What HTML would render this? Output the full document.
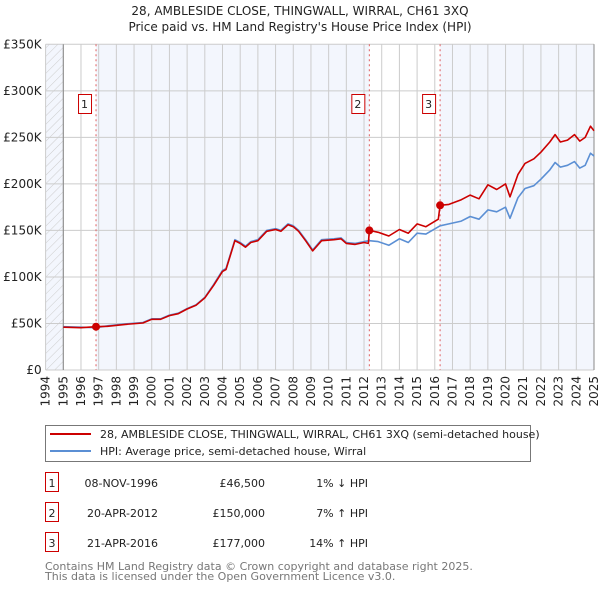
<!DOCTYPE html>
<html><head><meta charset="utf-8">
<style>
body{margin:0;background:#fff;font-family:"DejaVu Sans","Liberation Sans",sans-serif;}
svg text{font-family:"DejaVu Sans","Liberation Sans",sans-serif;}
</style></head>
<body>
<svg id="chart" width="600" height="590" xmlns="http://www.w3.org/2000/svg">
<defs>
<pattern id="hatch" width="6" height="6" patternUnits="userSpaceOnUse" patternTransform="rotate(45)">
<line x1="0" y1="0" x2="0" y2="6" stroke="#ccc" stroke-width="1"/>
</pattern>
</defs>
<text x="300" y="15" text-anchor="middle" font-size="12" fill="#222">28, AMBLESIDE CLOSE, THINGWALL, WIRRAL, CH61 3XQ</text>
<text x="300" y="31" text-anchor="middle" font-size="12" fill="#222">Price paid vs. HM Land Registry's House Price Index (HPI)</text>
<g id="plot"></g>
<g>
<rect x="45.5" y="425.5" width="485" height="36" fill="#fff" stroke="#777"/>
<line x1="50" y1="434" x2="91" y2="434" stroke="#cc0000" stroke-width="2"/>
<text x="100" y="438" font-size="11" fill="#222">28, AMBLESIDE CLOSE, THINGWALL, WIRRAL, CH61 3XQ (semi-detached house)</text>
<line x1="50" y1="451" x2="91" y2="451" stroke="#5b8fd4" stroke-width="2"/>
<text x="100" y="455" font-size="11" fill="#222">HPI: Average price, semi-detached house, Wirral</text>
</g>
<g id="table" font-size="11" fill="#222"></g>
<text x="45" y="570" font-size="11" fill="#777">Contains HM Land Registry data © Crown copyright and database right 2025.</text>
<text x="45" y="580" font-size="11" fill="#777">This data is licensed under the Open Government Licence v3.0.</text>
</svg>
<script>
const yTicks=[0,50000,100000,150000,200000,250000,300000,350000];
const yTickLabels=["£0","£50K","£100K","£150K","£200K","£250K","£300K","£350K"];
const years=[1994,1995,1996,1997,1998,1999,2000,2001,2002,2003,2004,2005,2006,2007,2008,2009,2010,2011,2012,2013,2014,2015,2016,2017,2018,2019,2020,2021,2022,2023,2024,2025];
const hpiDates=[1995.0,1996.0,1996.85,1997.5,1998.5,1999.5,2000.0,2000.5,2001.0,2001.5,2002.0,2002.5,2003.0,2003.5,2004.0,2004.2,2004.7,2005.0,2005.3,2005.6,2006.0,2006.5,2007.0,2007.3,2007.7,2008.0,2008.3,2008.7,2009.1,2009.6,2010.3,2010.7,2011.0,2011.5,2012.0,2012.3,2012.8,2013.4,2014.0,2014.5,2015.0,2015.5,2016.3,2016.8,2017.5,2018.0,2018.5,2019.0,2019.5,2020.0,2020.25,2020.7,2021.1,2021.6,2022.0,2022.5,2022.8,2023.1,2023.5,2023.9,2024.2,2024.5,2024.8,2025.0];
const hpiValues=[46500,46000,45500,47500,49500,51000,55000,55000,59000,61000,66000,70000,78000,92000,107000,109000,140000,137000,133000,138000,140000,150000,152000,150000,157000,155000,150000,140000,129000,140000,141000,142000,137000,136000,138000,139000,138000,134000,141000,137000,147000,146000,155000,157000,160000,165000,162000,172000,170000,175000,163000,185000,195000,198000,205000,215000,223000,218000,220000,224000,217000,220000,233000,230000];
const priceDates=[1995.0,1996.0,1996.85,1997.5,1998.5,1999.5,2000.0,2000.5,2001.0,2001.5,2002.0,2002.5,2003.0,2003.5,2004.0,2004.2,2004.7,2005.0,2005.3,2005.6,2006.0,2006.5,2007.0,2007.3,2007.7,2008.0,2008.3,2008.7,2009.1,2009.6,2010.3,2010.7,2011.0,2011.5,2012.0,2012.25,2012.3,2012.8,2013.4,2014.0,2014.5,2015.0,2015.5,2016.2,2016.3,2016.8,2017.5,2018.0,2018.5,2019.0,2019.5,2020.0,2020.25,2020.7,2021.1,2021.6,2022.0,2022.5,2022.8,2023.1,2023.5,2023.9,2024.2,2024.5,2024.8,2025.0];
const priceValues=[46000,45500,46500,47000,49000,50500,54500,54500,58500,60500,65500,69500,77500,91000,106000,108000,139000,136000,132000,137000,139000,149000,151000,149000,156000,154000,149000,139000,128000,139000,140000,141000,136000,135000,137000,136000,150000,148000,144000,151000,147000,157000,154000,162000,177000,178000,183000,188000,184000,199000,194000,200000,186000,210000,222000,227000,234000,245000,253000,245000,247000,253000,246000,250000,262000,257000];
const saleDates=[1996.85,2012.3,2016.3];
const salePrices=[46500,150000,177000];
const saleLabels=["1","2","3"];
const tableDates=["08-NOV-1996","20-APR-2012","21-APR-2016"];
const tablePrices=["£46,500","£150,000","£177,000"];
const tableHpi=["1% ↓ HPI","7% ↑ HPI","14% ↑ HPI"];

const X0=45.6,X1=594,Y0=370,Y1=44.3;
const xs=t=>X0+(t-1994)/(2025-1994)*(X1-X0);
const ys=v=>Y0-v/350000*(Y0-Y1);
const NS="http://www.w3.org/2000/svg";
const plot=document.getElementById('plot');
function mk(tag,attrs,parent){const e=document.createElementNS(NS,tag);for(const k in attrs)e.setAttribute(k,attrs[k]);(parent||plot).appendChild(e);return e;}

let bg=mk('rect',{x:xs(1994),y:Y1,width:xs(2025)-xs(1994),height:Y0-Y1,fill:'#f3f6fd'});


const whites=[[1995,saleDates[0]],[saleDates[1],saleDates[2]]];
whites.forEach(w=>{const r=mk('rect',{x:xs(w[0]),y:Y1,width:xs(w[1])-xs(w[0]),height:Y0-Y1,fill:'#fff'});

});
let h=mk('rect',{x:xs(1994),y:Y1,width:xs(1995)-xs(1994),height:Y0-Y1,fill:'url(#hatch)'});



years.forEach(y=>{const l=mk('line',{x1:xs(y),x2:xs(y),y1:Y1,y2:Y0,stroke:'#ccc','stroke-width':1});


const t=mk('text',{x:0,y:0,'font-size':12,fill:'#222','text-anchor':'end',transform:`translate(${xs(y)+4},${Y0+6}) rotate(-90)`});
t.textContent=y;

});
yTicks.forEach((v,i)=>{const l=mk('line',{x1:X0,x2:X1,y1:ys(v),y2:ys(v),stroke:'#ccc','stroke-width':1});


const t=mk('text',{x:X0-4,y:ys(v)+4,'font-size':12,fill:'#222','text-anchor':'end'});
t.textContent=yTickLabels[i];

});
let ax=mk('line',{x1:xs(1995),x2:xs(1995),y1:Y1,y2:Y0,stroke:'#888','stroke-width':1});


let ax2=mk('line',{x1:X1,x2:X1,y1:Y1,y2:Y0,stroke:'#888','stroke-width':1});



saleDates.forEach((d,i)=>{const l=mk('line',{x1:xs(d),x2:xs(d),y1:Y1,y2:Y0,stroke:'#e06060','stroke-width':1,'stroke-dasharray':'2,3'});


const b=mk('rect',{x:xs(d)-18+0.5,y:94.5,width:13,height:19,fill:'#fff',stroke:'#cc0000'});


const t=mk('text',{x:xs(d)-11.5,y:108,'font-size':11,fill:'#222','text-anchor':'middle'});
t.textContent=saleLabels[i];

});

const pts=(ds,vs)=>ds.map((d,i)=>xs(d).toFixed(1)+','+ys(vs[i]).toFixed(1)).join(' ');
let hl=mk('polyline',{points:pts(hpiDates,hpiValues),fill:'none',stroke:'#5b8fd4','stroke-width':1.6,'stroke-linejoin':'round'});


let pl=mk('polyline',{points:pts(priceDates,priceValues),fill:'none',stroke:'#cc0000','stroke-width':1.6,'stroke-linejoin':'round'});


saleDates.forEach((d,i)=>{const c=mk('circle',{cx:xs(d),cy:ys(salePrices[i]),r:4,fill:'#cc0000'});

});

const tb=document.getElementById('table');
const rowY=[483,513,543];
saleLabels.forEach((s,i)=>{const y=rowY[i];
const b=mk('rect',{x:45.5,y:y-10.5,width:13,height:19,fill:'#fff',stroke:'#cc0000'},tb);


const cells=[[52,s,'middle'],[158,tableDates[i],'end'],[265,tablePrices[i],'end'],[368,tableHpi[i],'end']];
cells.forEach(c=>{const t=mk('text',{x:c[0],y:y+4,'text-anchor':c[2]},tb);t.textContent=c[1];

});});
</script>
</body></html>
